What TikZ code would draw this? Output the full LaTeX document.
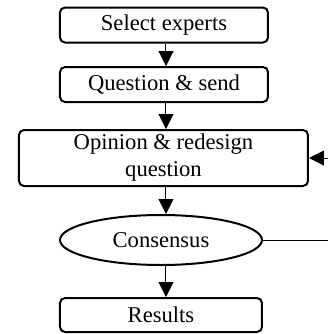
\documentclass[tikz,border=0pt]{standalone}
\usepackage{fontspec}
\setmainfont{Liberation Serif}
\usetikzlibrary{arrows.meta,shapes.geometric}
\begin{document}
\begin{tikzpicture}[x=0.5pt,y=-0.5pt,
  font=\fontsize{11.3}{13.5}\selectfont,
  box/.style={draw,line width=1pt,rounded corners=2.5pt,align=center,inner sep=0pt},
  oval/.style={draw,line width=1pt,ellipse,inner sep=0pt},
  arr/.style={line width=0.5pt,-{Triangle[width=7.5pt,length=7.5pt]}},
  ln/.style={line width=0.5pt}]
\useasboundingbox (0,0) rectangle (328,334);
\node[box,minimum width=104pt,minimum height=17.5pt] (b1) at (164,25) {Select experts};
\node[box,minimum width=104pt,minimum height=17.5pt] (b2) at (164,84.5) {Question \& send};
\node[box,minimum width=144.5pt,minimum height=28pt] (b3) at (163.5,158) {Opinion \& redesign\\question};
\node[oval,minimum width=101pt,minimum height=25pt] (b4) at (161,240) {Consensus};
\node[box,minimum width=101pt,minimum height=17pt] (b5) at (161,315) {Results};
\coordinate (ax) at (166,0);
\coordinate (r1) at (330,240);
\coordinate (r2) at (330,158);
\draw[arr] (b1.south -| ax) -- (b2.north -| ax);
\draw[arr] (b2.south -| ax) -- (b3.north -| ax);
\draw[arr] (b3.south -| ax) -- (b4.north -| ax);
\draw[arr] (b4.south -| ax) -- (b5.north -| ax);
\draw[ln] (b4.east) -- (r1);
\draw[arr] (r2) -- (b3.east);
\end{tikzpicture}
\end{document}
